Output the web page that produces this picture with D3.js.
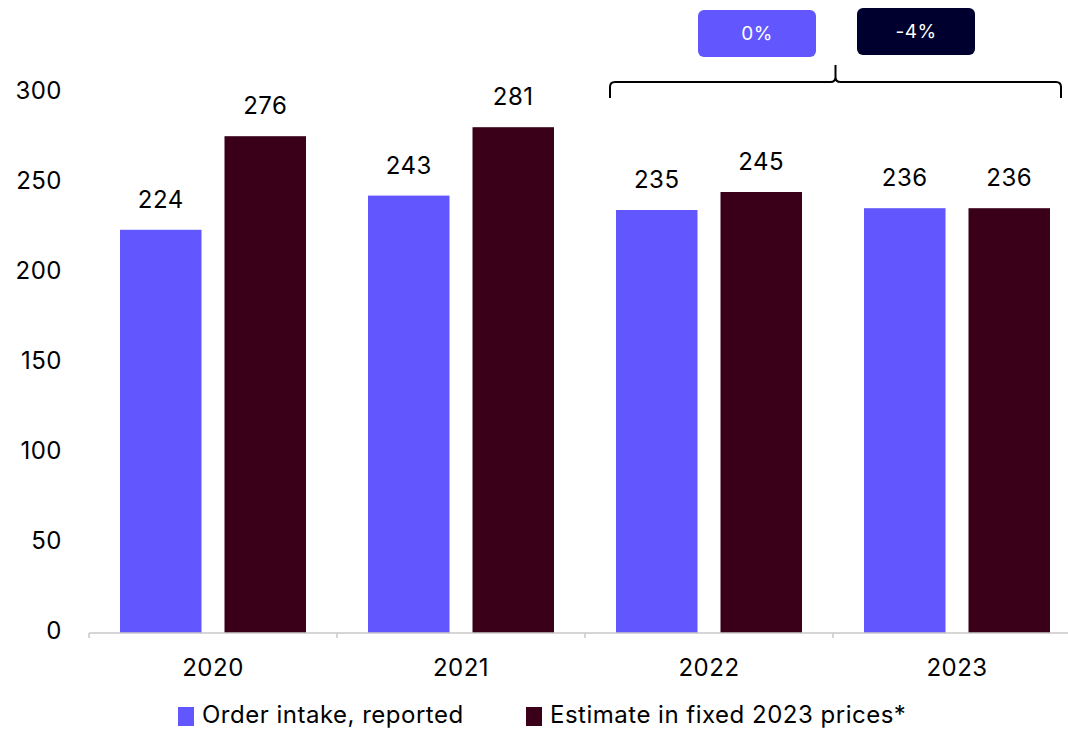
<!DOCTYPE html>
<html>
<head>
<meta charset="utf-8">
<script src="https://cdn.jsdelivr.net/npm/d3@7"></script>
<style>
  html, body { margin: 0; padding: 0; background: #fff; }
  svg { display: block; font-family: "Inter", "Liberation Sans", sans-serif; }
  svg text { letter-spacing: 0.5px; }
</style>
</head>
<body>
<svg id="chart" width="1068" height="729"></svg>
<script>
// Order intake by year
const years = ["2020", "2021", "2022", "2023"];
const reported = [224, 243, 235, 236];
const fixedPrices = [276, 281, 245, 236];
const seriesNames = ["Order intake, reported", "Estimate in fixed 2023 prices*"];
const seriesColors = ["#6256FF", "#3A0019"];
const yTicks = [0, 50, 100, 150, 200, 250, 300];
const changeLabels = ["0%", "-4%"];
const changeColors = ["#6256FF", "#00002E"];

const svg = d3.select("#chart");
const margin = { left: 89, right: 1081, top: 92, bottom: 633 };
const fs = 24;

const x = d3.scaleBand().domain(years).range([margin.left, margin.right]).paddingInner(0).paddingOuter(0);
const inner = d3.scaleBand().domain([0, 1]).range([31, 217]).paddingInner(0.22);
const y = d3.scaleLinear().domain([0, 300]).range([margin.bottom, margin.bottom - 540]);

const data = years.map((yr, i) => ({ year: yr, values: [reported[i], fixedPrices[i]] }));

// y tick labels (no axis line)
svg.append("g").selectAll("text").data(yTicks).join("text")
  .attr("x", 62).attr("y", d => y(d) - 2).attr("dy", "0.35em")
  .attr("text-anchor", "end").attr("font-size", fs).attr("fill", "#000")
  .text(d => d);

// bars
const groups = svg.append("g").selectAll("g").data(data).join("g")
  .attr("transform", d => `translate(${x(d.year)},0)`);
groups.selectAll("rect").data(d => d.values.map((v, k) => ({ v, k }))).join("rect")
  .attr("x", d => inner(d.k)).attr("width", inner.bandwidth())
  .attr("y", d => y(d.v)).attr("height", d => y(0) - y(d.v))
  .attr("fill", d => seriesColors[d.k]);
groups.selectAll("text").data(d => d.values.map((v, k) => ({ v, k }))).join("text")
  .attr("x", d => inner(d.k) + inner.bandwidth() / 2)
  .attr("y", d => y(d.v) - 22)
  .attr("text-anchor", "middle").attr("font-size", fs).attr("fill", "#000")
  .text(d => d.v);

// x axis
const xAxis = svg.append("g").attr("transform", `translate(0,${y(0)})`);
xAxis.append("line").attr("x1", margin.left).attr("x2", margin.right)
  .attr("stroke", "#c8c8c8").attr("stroke-width", 1.5);
xAxis.selectAll("line.tick").data(years.concat(["end"])).join("line")
  .attr("class", "tick")
  .attr("x1", (d, i) => margin.left + i * x.step()).attr("x2", (d, i) => margin.left + i * x.step())
  .attr("y1", 0).attr("y2", 5).attr("stroke", "#c8c8c8").attr("stroke-width", 1.5);
xAxis.selectAll("text").data(years).join("text")
  .attr("x", d => x(d) + x.bandwidth() / 2).attr("y", 43)
  .attr("text-anchor", "middle").attr("font-size", fs).attr("fill", "#000")
  .text(d => d);

// legend
const legendX = [178, 526];
const legend = svg.append("g").selectAll("g").data(seriesNames).join("g")
  .attr("transform", (d, i) => `translate(${legendX[i]},707)`);
legend.append("rect").attr("width", 16).attr("height", 19).attr("fill", (d, i) => seriesColors[i]);
legend.append("text").attr("x", 24).attr("y", 8).attr("dy", "0.35em")
  .attr("font-size", fs).attr("fill", "#000").text(d => d);

// brace over 2022–2023
const bx0 = x("2022") + inner(0) - 6, bx1 = x("2023") + inner(1) + inner.bandwidth() + 11;
const bmid = (bx0 + bx1) / 2, by = 82, r = 5;
const brace = d3.path();
brace.moveTo(bx0, by + 16);
brace.lineTo(bx0, by + r);
brace.quadraticCurveTo(bx0, by, bx0 + r, by);
brace.lineTo(bmid - r, by);
brace.quadraticCurveTo(bmid, by, bmid, by - r);
brace.lineTo(bmid, by - 17);
brace.moveTo(bmid, by - r);
brace.quadraticCurveTo(bmid, by, bmid + r, by);
brace.lineTo(bx1 - r, by);
brace.quadraticCurveTo(bx1, by, bx1, by + r);
brace.lineTo(bx1, by + 16);
svg.append("path").attr("d", brace.toString()).attr("fill", "none")
  .attr("stroke", "#000").attr("stroke-width", 2);

// change badges
const badgeX = [698, 857], badgeY = [10, 8];
const badges = svg.append("g").selectAll("g").data(changeLabels).join("g")
  .attr("transform", (d, i) => `translate(${badgeX[i]},${badgeY[i]})`);
badges.append("rect").attr("width", 118).attr("height", 47).attr("rx", 6)
  .attr("fill", (d, i) => changeColors[i]);
badges.append("text").attr("x", 59).attr("y", 23.5).attr("dy", "0.35em")
  .attr("text-anchor", "middle").attr("font-size", 19).attr("fill", "#fff")
  .text(d => d);
</script>
</body>
</html>
